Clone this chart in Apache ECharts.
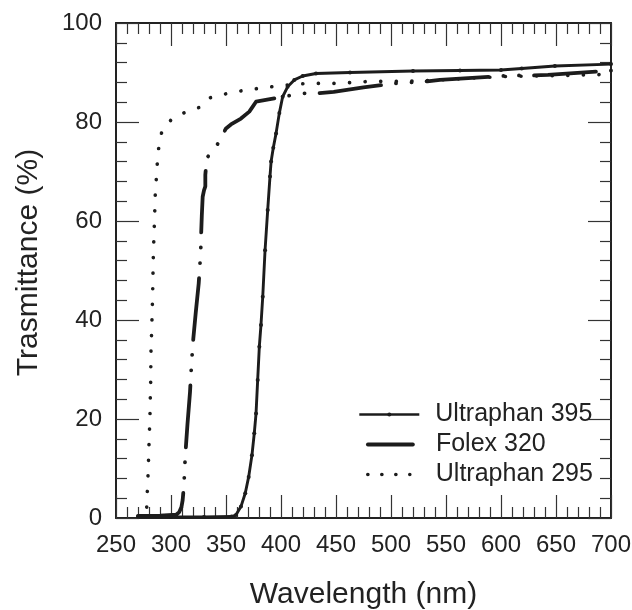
<!DOCTYPE html>
<html>
<head>
<meta charset="utf-8">
<script src="https://cdn.jsdelivr.net/npm/echarts@6/dist/echarts.min.js"></script>
<style>
  html, body { margin: 0; padding: 0; background: #ffffff; }
  #chart { width: 632px; height: 610px; }
</style>
</head>
<body>
<div id="chart"></div>
<script>
// ---- data ----
const seriesNames = ['Ultraphan 395', 'Folex 320', 'Ultraphan 295'];

const u395Wavelength = [270, 300, 330, 355, 359, 363.6, 367.5, 370.6, 373.6, 375.7, 377.3, 378.8, 380.3, 381.8, 383.4, 385.5, 387.9, 390, 391, 393, 395.5, 398.5, 401.5, 406, 412.1, 419.7, 431.8, 462.7, 520, 562.7, 600, 618.8, 649, 700];
const u395Trans      = [0.3, 0.2, 0.2, 0.3, 0.6, 2.3, 5, 8.3, 12.7, 17.1, 21.1, 27.9, 34.6, 39, 44.7, 54.1, 62.2, 69, 72, 74.8, 77.7, 81.8, 85.1, 87.1, 88.5, 89.3, 89.8, 90.0, 90.3, 90.4, 90.5, 90.8, 91.3, 91.7];

const folexWavelength = [270, 290, 305, 307.5, 309.5, 310.6, 311.8, 312.4, 313, 315, 317.3, 318.8, 320.3, 322.5, 325.2, 326.1, 327, 327.3, 328, 328.8, 330, 331.2, 331.2, 332.5, 342.5, 350, 354.5, 363.6, 371.2, 374.3, 377.3, 390, 401.5, 419, 433, 447.9, 475, 503.9, 518, 533, 544.5, 601.8, 615, 630, 642.7, 700];
const folexTrans      = [0.4, 0.5, 0.7, 1.2, 2.2, 3.6, 6.7, 9.8, 12.7, 19, 25.5, 31.7, 36.3, 41.5, 47.4, 50.5, 53.7, 56.7, 61, 64.9, 66.2, 67, 69.3, 72.7, 75.6, 78.7, 79.5, 80.7, 82.1, 83.1, 84.1, 84.6, 85.1, 85.8, 85.8, 86.1, 87.0, 87.8, 88.0, 88.2, 88.5, 89.3, 89.4, 89.4, 89.5, 90.4];

const u295Wavelength = [277.9, 279.1, 280, 280.9, 281.5, 281.8, 282.7, 283.4, 283.9, 284.8, 285.7, 287.5, 288.8, 291.5, 300.3, 313, 326.4, 335.6, 350, 364, 376.5, 383.4, 387, 395.2, 423.9, 452, 480.3, 508, 537.3, 575, 606, 636, 660, 693, 700];
const u295Trans      = [2.2, 8.6, 14.8, 21.1, 27.4, 33.7, 40, 46.3, 52.7, 59, 65.3, 71.5, 74.7, 77.9, 80.5, 82, 83, 84.9, 85.7, 86.3, 86.7, 86.9, 86.9, 87.3, 87.8, 87.8, 88.2, 88.2, 88.4, 88.9, 89.2, 89.3, 89.4, 89.6, 89.7];

const xMin = 250, xMax = 700, xStep = 50;
const yMin = 0, yMax = 100, yStep = 20;
// ------------------------------------------------

function pairs(xs, ys) { return xs.map((x, i) => [x, ys[i]]); }

const INK = '#1c1c1c';
const FONT = "'Liberation Sans', Arial, sans-serif";

const folexDash = [62, 15, 0.1, 15.5, 0.1, 15];
const dotDash = [0.1, 15.5];

function axisCommon(showLabel) {
  return {
    type: 'value',
    axisLine: { show: true, onZero: false, lineStyle: { color: '#222', width: 2 } },
    axisTick: { show: true, inside: true, length: 23, lineStyle: { color: '#333', width: 1.2 } },
    minorTick: { show: true, splitNumber: 5, length: 11, lineStyle: { color: '#333', width: 1.2 } },
    splitLine: { show: false },
    minorSplitLine: { show: false },
    axisLabel: { show: showLabel, fontSize: 24, color: '#222', fontFamily: FONT },
  };
}

const option = {
  animation: false,
  backgroundColor: '#ffffff',
  grid: { left: 116, right: 21, top: 23, bottom: 92, containLabel: false, outerBoundsMode: 'none' },
  xAxis: [
    Object.assign(axisCommon(true), {
      position: 'bottom', min: xMin, max: xMax, interval: xStep,
      name: 'Wavelength (nm)', nameLocation: 'middle', nameGap: 62,
      nameTextStyle: { fontSize: 30, color: '#222', fontFamily: FONT },
      axisLabel: { show: true, fontSize: 24, color: '#222', fontFamily: FONT, margin: 15 }
    }),
    Object.assign(axisCommon(false), {
      position: 'top', min: xMin, max: xMax, interval: xStep
    })
  ],
  yAxis: [
    Object.assign(axisCommon(true), {
      position: 'left', min: yMin, max: yMax, interval: yStep,
      name: 'Trasmittance (%)', nameLocation: 'middle', nameGap: 72,
      nameTextStyle: { fontSize: 30, color: '#222', fontFamily: FONT, padding: [0, 0, 0, 16] },
      axisLabel: { show: true, fontSize: 24, color: '#222', fontFamily: FONT, margin: 14 }
    }),
    Object.assign(axisCommon(false), {
      position: 'right', min: yMin, max: yMax, interval: yStep
    })
  ],
  legend: [
    {
      data: [seriesNames[0]], left: 358, top: 402, padding: 0, selectedMode: false,
      itemWidth: 60, itemHeight: 5,
      textStyle: { fontSize: 25, color: '#222', fontFamily: FONT, padding: [0, 0, 0, 11] },
      lineStyle: { width: 2.6, color: INK, type: 'solid' },
      itemStyle: { color: INK, borderWidth: 0 }
    },
    {
      data: [seriesNames[1]], left: 366, top: 432, padding: 0, selectedMode: false,
      itemWidth: 45, itemHeight: 5,
      textStyle: { fontSize: 25, color: '#222', fontFamily: FONT, padding: [0, 0, 0, 18] },
      lineStyle: { width: 3.8, color: INK, type: 'solid', cap: 'round' },
      itemStyle: { opacity: 0, borderWidth: 0 }
    },
    {
      data: [seriesNames[2]], left: 366, top: 462, padding: 0, selectedMode: false,
      itemWidth: 42, itemHeight: 5,
      textStyle: { fontSize: 25, color: '#222', fontFamily: FONT, padding: [0, 0, 0, 21] },
      lineStyle: { width: 3.6, color: INK, type: [0.1, 13.9], cap: 'round' },
      itemStyle: { opacity: 0, borderWidth: 0 }
    }
  ],
  series: [
    {
      name: seriesNames[0], type: 'line', xAxisIndex: 0, yAxisIndex: 0,
      data: pairs(u395Wavelength, u395Trans),
      showSymbol: true, symbol: 'circle', symbolSize: 4,
      itemStyle: { color: INK, borderWidth: 0 },
      lineStyle: { color: INK, width: 2.9, join: 'round' },
      z: 3
    },
    {
      name: seriesNames[1], type: 'line', xAxisIndex: 0, yAxisIndex: 0,
      data: pairs(folexWavelength, folexTrans),
      showSymbol: false, symbol: 'none',
      itemStyle: { color: INK },
      lineStyle: { color: INK, width: 3.8, type: folexDash, cap: 'round', join: 'round' },
      z: 2
    },
    {
      name: seriesNames[2], type: 'line', xAxisIndex: 0, yAxisIndex: 0,
      data: pairs(u295Wavelength, u295Trans),
      showSymbol: false, symbol: 'none',
      itemStyle: { color: INK },
      lineStyle: { color: INK, width: 3.6, type: dotDash, cap: 'round', join: 'round' },
      z: 2
    }
  ]
};

const chart = echarts.init(document.getElementById('chart'), null, { renderer: 'canvas' });
chart.setOption(option);
</script>
</body>
</html>
